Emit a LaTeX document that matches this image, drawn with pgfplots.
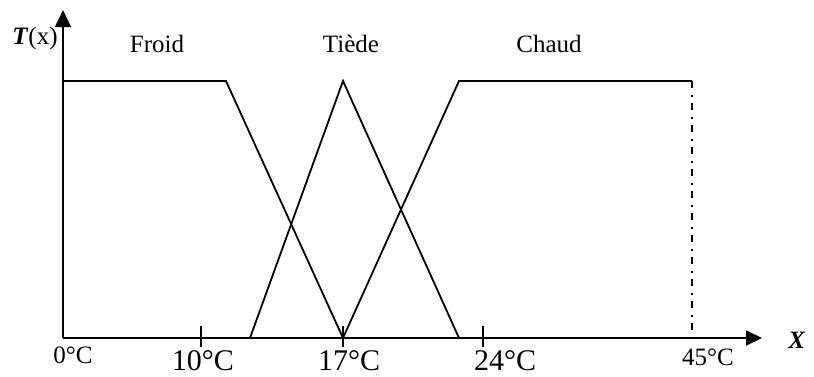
\documentclass[border=0pt]{standalone}
\usepackage{fontspec}
\setmainfont{Liberation Serif}
\usepackage{pgfplots}
\pgfplotsset{compat=1.18}
\usetikzlibrary{arrows.meta}
\begin{document}
\begin{tikzpicture}
\useasboundingbox (0,0) rectangle (814pt,376pt);
\begin{axis}[at={(0,0)},anchor=south west,
  scale only axis, width=814pt, height=376pt,
  xmin=-63, xmax=751, ymin=-0.147860, ymax=1.315175,
  hide axis, clip=false]
% axes
\draw[line width=1.8pt,-{Triangle[length=17pt,width=16pt]}] (axis cs:0,0) -- (axis cs:0,1.276);
\draw[line width=1.8pt,-{Triangle[length=16pt,width=15pt]}] (axis cs:0,0) -- (axis cs:699,0);
% ticks
\draw[line width=1.8pt] (axis cs:138,0.0467) -- (axis cs:138,-0.035);
\draw[line width=1.8pt] (axis cs:280,0.0467) -- (axis cs:280,-0.035);
\draw[line width=1.8pt] (axis cs:420,0.0467) -- (axis cs:420,-0.035);
% Froid
\addplot[black, line width=1.8pt] coordinates {(0,1) (163,1) (280,0)};
% Tiede
\addplot[black, line width=1.8pt] coordinates {(187,0) (280,1) (396,0)};
% Chaud
\addplot[black, line width=1.8pt] coordinates {(280,0) (396,1) (629,1)};
\addplot[black, line width=1.8pt, dash pattern=on 7pt off 6.5pt on 2pt off 6.5pt] coordinates {(629,1) (629,0)};
% labels
\node[anchor=base, inner sep=0pt, font=\fontsize{25}{30}\selectfont] at (axis cs:-28,1.1401) {\textbf{\textit{T}}(x)};
\node[anchor=base, inner sep=0pt, font=\fontsize{25}{30}\selectfont] at (axis cs:94,1.1128) {Froid};
\node[anchor=base, inner sep=0pt, font=\fontsize{25}{30}\selectfont] at (axis cs:288,1.1128) {Tiède};
\node[anchor=base, inner sep=0pt, font=\fontsize{25}{30}\selectfont] at (axis cs:486,1.1128) {Chaud};
\node[anchor=base, inner sep=0pt, font=\fontsize{25}{30}\selectfont] at (axis cs:10,-0.0973) {0°C};
\node[anchor=base, inner sep=0pt, font=\fontsize{30}{36}\selectfont] at (axis cs:140,-0.1245) {10°C};
\node[anchor=base, inner sep=0pt, font=\fontsize{30}{36}\selectfont] at (axis cs:286,-0.1245) {17°C};
\node[anchor=base, inner sep=0pt, font=\fontsize{30}{36}\selectfont] at (axis cs:442,-0.1245) {24°C};
\node[anchor=base, inner sep=0pt, font=\fontsize{25}{30}\selectfont] at (axis cs:645,-0.1051) {45°C};
\node[anchor=base, inner sep=0pt, font=\fontsize{25}{30}\selectfont] at (axis cs:734,-0.0389) {\textbf{\textit{X}}};
\end{axis}
\end{tikzpicture}
\end{document}
